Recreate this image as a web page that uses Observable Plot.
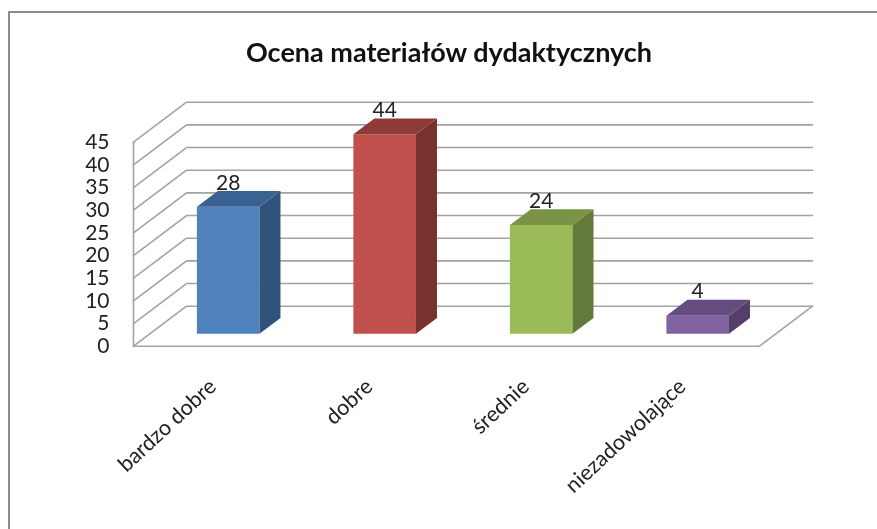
<!DOCTYPE html>
<html><head><meta charset="utf-8">
<script src="https://cdn.jsdelivr.net/npm/d3@7"></script>
<script src="https://cdn.jsdelivr.net/npm/@observablehq/plot@0.6"></script>
<style>
html,body{margin:0;padding:0;background:#fff;overflow:hidden}
#chart{position:relative;width:877px;height:529px;font-family:Lato,sans-serif;filter:blur(0.35px)}
#frame{position:absolute;left:8px;top:11px;right:0;bottom:0;border-top:2px solid #8c8c8c;border-left:2px solid #8c8c8c;box-sizing:border-box}
#title{position:absolute;left:0;width:898px;top:35px;text-align:center;font:bold 27px Lato,sans-serif;color:#111}
svg{position:absolute;left:0;top:0;background:transparent!important}
</style></head><body>
<div id="chart"><div id="frame"></div><div id="title">Ocena materiałów dydaktycznych</div></div>
<script>
const categories = ["bardzo dobre", "dobre", "średnie", "niezadowolające"];
const values = [28, 44, 24, 4];
const frontColors = ["#4f81bd", "#c0504d", "#9bbb59", "#8064a2"];
const sideColors = ["#31527a", "#78312f", "#647a3a", "#533f6a"];
const topColors = ["#3a6291", "#8d3a38", "#7a9344", "#654d80"];
const yTicks = [0, 5, 10, 15, 20, 25, 30, 35, 40, 45];

// oblique projection, expressed in data units
const shearX = 0.3387, shearY = 8.824;
const zFront = 0.31, zBack = 0.706, halfBar = 0.2;
const project = (c, v, z) => ({x: c + z * shearX, y: v + z * shearY});

const walls = yTicks.flatMap(t => [
  {id: t, ...project(0, t, 0)},
  {id: t, ...project(0, t, 1)},
  {id: t, ...project(4, t, 1)}
]);
const floorEdge = [project(0, 0, 0), project(4, 0, 0), project(4, 0, 1)];
const leftEdge = [project(0, 0, 0), project(0, 45, 0)];

const faces = [], labels = [];
values.forEach((v, i) => {
  const c = i + 0.5, l = c - halfBar, r = c + halfBar;
  const face = (kind, fill, pts) => pts.forEach(p => faces.push({id: i + kind, fill, ...p}));
  face("front", frontColors[i], [project(l, 0, zFront), project(r, 0, zFront), project(r, v, zFront), project(l, v, zFront)]);
  face("side", sideColors[i], [project(r, 0, zFront), project(r, 0, zBack), project(r, v, zBack), project(r, v, zFront)]);
  face("top", topColors[i], [project(l, v, zFront), project(r, v, zFront), project(r, v, zBack), project(l, v, zBack)]);
  labels.push({value: v, ...project(c, v, zFront)});
});
const catLabels = categories.map((name, i) => ({name, ...project(i + 0.5, 0, 0)}));
const tickLabels = yTicks.map(t => ({t, x: 0, y: t}));

const plot = Plot.plot({
  width: 877, height: 529,
  style: {background: "transparent"},
  x: {domain: [0, 4], range: [133, 759], axis: null},
  y: {domain: [0, 45], range: [345.7, 141.7], axis: null},
  marks: [
    Plot.line(walls, {x: "x", y: "y", z: "id", stroke: "#a3a3a3", strokeWidth: 1.6}),
    Plot.line(floorEdge, {x: "x", y: "y", stroke: "#a3a3a3", strokeWidth: 1.6}),
    Plot.line(leftEdge, {x: "x", y: "y", stroke: "#a3a3a3", strokeWidth: 1.6}),
    Plot.line(faces, {x: "x", y: "y", z: "id", fill: "fill", stroke: "none"}),
    Plot.text(labels, {x: "x", y: "y", text: "value", dy: -24, fontSize: 21, fill: "#222", fontFamily: "Lato"}),
    Plot.text(tickLabels, {x: "x", y: "y", text: "t", dx: -24, textAnchor: "end", fontSize: 21, fill: "#222", fontFamily: "Lato"}),
    Plot.text(catLabels, {x: "x", y: "y", text: "name", rotate: -43, textAnchor: "end", dx: 1, dy: 37, fontSize: 21.5, fill: "#222", fontFamily: "Lato"})
  ]
});
document.getElementById("chart").appendChild(plot);
</script>
</body></html>
